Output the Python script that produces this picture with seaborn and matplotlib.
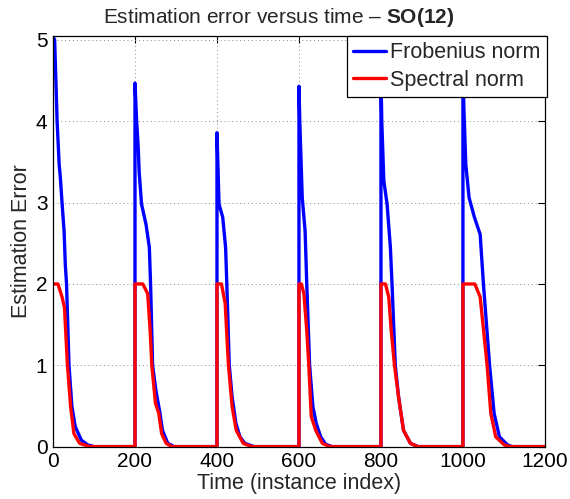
import matplotlib
matplotlib.use("Agg")
import matplotlib.pyplot as plt
import seaborn as sns

# =========================
# DATA
# =========================

# Frobenius norm error, keypoints (time, value)
frob_time = [0, 4, 10, 15, 18, 22, 27, 30, 33, 39, 46, 54, 69, 85, 100, 200,
             200, 204, 208, 210, 216, 227, 235, 238, 243, 251, 261, 267, 280, 295, 400,
             400, 405, 414, 421, 424, 430, 437, 446, 456, 468, 490, 600,
             600, 602, 608, 615, 619, 626, 634, 642, 653, 665, 680, 800,
             800, 802, 807, 815, 823, 827, 835, 843, 855, 872, 890, 1000,
             1000, 1002, 1007, 1015, 1028, 1042, 1050, 1065, 1076, 1089, 1109, 1120, 1200]
frob_err = [5.05, 5.0, 4.0, 3.47, 3.3, 3.0, 2.65, 2.24, 2.0, 1.0, 0.5, 0.25, 0.08, 0.02, 0.0, 0.0,
            4.47, 4.0, 3.67, 3.39, 2.98, 2.73, 2.45, 2.0, 1.0, 0.69, 0.41, 0.2, 0.04, 0.0, 0.0,
            3.86, 2.98, 2.82, 2.45, 2.0, 1.0, 0.61, 0.29, 0.12, 0.04, 0.0, 0.0,
            4.43, 4.0, 3.06, 2.65, 2.0, 1.0, 0.49, 0.29, 0.12, 0.03, 0.0, 0.0,
            4.6, 4.0, 3.27, 2.98, 2.45, 2.0, 1.0, 0.61, 0.2, 0.04, 0.0, 0.0,
            4.7, 4.2, 3.47, 3.06, 2.82, 2.61, 2.0, 1.0, 0.41, 0.12, 0.02, 0.0, 0.0]

# Spectral norm error, keypoints (time, value)
spec_time = [0, 12, 22, 28, 35, 43, 51, 65, 90, 200,
             200, 219, 231, 237, 241, 250, 258, 265, 276, 290, 400,
             400, 411, 420, 428, 437, 447, 464, 485, 600,
             600, 606, 612, 619, 624, 630, 641, 657, 675, 800,
             800, 811, 819, 825, 833, 843, 855, 872, 890, 1000,
             1000, 1029, 1042, 1059, 1068, 1080, 1101, 1115, 1200]
spec_err = [2.0, 2.0, 1.84, 1.71, 1.02, 0.49, 0.16, 0.04, 0.0, 0.0,
            2.0, 2.0, 1.88, 1.43, 1.0, 0.53, 0.41, 0.16, 0.04, 0.0, 0.0,
            2.0, 2.0, 1.76, 1.0, 0.49, 0.2, 0.04, 0.0, 0.0,
            2.0, 2.0, 1.88, 1.43, 1.0, 0.37, 0.2, 0.04, 0.0, 0.0,
            2.0, 2.0, 1.84, 1.43, 1.0, 0.61, 0.2, 0.04, 0.0, 0.0,
            2.0, 2.0, 1.84, 1.0, 0.41, 0.12, 0.02, 0.0, 0.0]

x_ticks = [0, 200, 400, 600, 800, 1000, 1200]
y_ticks = [0, 1, 2, 3, 4, 5]

# =========================
# STYLE
# =========================

sns.set_style("white")
plt.rcParams["font.family"] = ["Liberation Sans", "DejaVu Sans"]
plt.rcParams["mathtext.fontset"] = "custom"
plt.rcParams["mathtext.rm"] = "Liberation Sans"
plt.rcParams["mathtext.bf"] = "Liberation Sans:bold"

fig = plt.figure(figsize=(5.7, 4.99), dpi=100)
ax = fig.add_axes([0.093, 0.105, 0.863, 0.823])

# =========================
# PLOT
# =========================

line_kw = dict(linewidth=2.4, estimator=None, sort=False,
               solid_joinstyle="round", solid_capstyle="round")
sns.lineplot(x=frob_time, y=frob_err, ax=ax, color=(0, 0, 1),
             label="Frobenius norm", **line_kw)
sns.lineplot(x=spec_time, y=spec_err, ax=ax, color=(1, 0, 0),
             label="Spectral norm", **line_kw)

ax.set_xlim(0, 1200)
ax.set_ylim(0, 5.05)
ax.set_xticks(x_ticks)
ax.set_yticks(y_ticks)

ax.grid(True, linestyle=(0, (1, 3)), color="#888888", linewidth=0.7)
for s in ax.spines.values():
    s.set_color("black")
    s.set_linewidth(0.9)

ax.tick_params(direction="in", length=5, width=0.8, top=True, right=True,
               labelsize=15, pad=4, colors="black")

ax.set_xlabel("Time (instance index)", fontsize=15.5, labelpad=1.5)
ax.set_ylabel("Estimation Error", fontsize=15.5, labelpad=3)

ax.set_title(r"Estimation error versus time – $\mathbf{SO(12)}$", fontsize=15,
             x=0.459, pad=9)

leg = ax.legend(loc="upper right", bbox_to_anchor=(1.004, 1.0), borderaxespad=0,
                fontsize=15.5, frameon=True, fancybox=False, framealpha=1,
                edgecolor="black", handlelength=1.5, handletextpad=0.2,
                borderpad=0.3, labelspacing=0.3)
leg.get_frame().set_linewidth(0.9)

plt.savefig("out.png", dpi=100)
